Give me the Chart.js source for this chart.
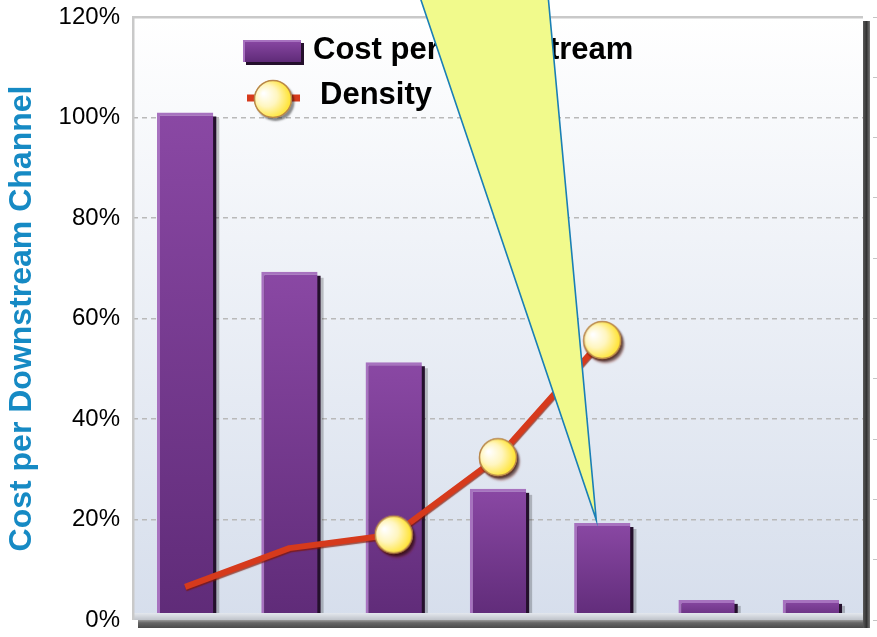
<!DOCTYPE html>
<html><head><meta charset="utf-8">
<script src="https://cdn.jsdelivr.net/npm/chart.js@4"></script>
<style>html,body{margin:0;padding:0;background:#fff;}#wrap{width:877px;height:637px;position:relative}</style>
</head><body><div id="wrap"><canvas id="c" width="877" height="637"></canvas></div>
<script>
// ---- data ----
const categories = ['1', '2', '3', '4', '5', '6', '7'];
const costPerChannel = [101, 69.3, 51.3, 26.1, 19.3, 4, 4];
const density = [6.6, 14.3, 17, 32.4, 55.7, null, null];
const densityMarkers = [0, 0, 19, 19, 19, 0, 0];
const yTicks = [0, 20, 40, 60, 80, 100, 120];
const seriesNames = ['Cost per Downstream', 'Density'];
const axisTitle = 'Cost per Downstream Channel';
const calloutTarget = 4; // index of the bar the callout points to

const FONT = "'Liberation Sans', Arial, sans-serif";

function makeBall(r) {
  const s = Math.ceil(r * 2 + 10) + (Math.ceil(r * 2 + 10) % 2);
  const cv = document.createElement('canvas'); cv.width = s; cv.height = s;
  const g = cv.getContext('2d'); const c = s / 2;
  g.save();
  g.shadowColor = 'rgba(0,0,0,0.45)'; g.shadowOffsetX = 2.5; g.shadowOffsetY = 3; g.shadowBlur = 2;
  g.beginPath(); g.arc(c, c, r, 0, Math.PI * 2); g.fillStyle = '#e6c458'; g.fill();
  g.restore();
  const rg = g.createRadialGradient(c - r * 0.5, c - r * 0.3, r * 0.05, c - r * 0.15, c, r * 1.2);
  rg.addColorStop(0, '#ffffff'); rg.addColorStop(0.45, '#fff6c0'); rg.addColorStop(1, '#ffe01a');
  g.beginPath(); g.arc(c, c, r - 0.5, 0, Math.PI * 2); g.fillStyle = rg; g.fill();
  g.lineWidth = 1.5; g.strokeStyle = '#b8864a'; g.stroke();
  return cv;
}
const ball = makeBall(19);

function barGradient(ctx, t, b) {
  if (!isFinite(t) || !isFinite(b) || t === b) return '#7a3a95';
  const g = ctx.createLinearGradient(0, t, 0, b);
  g.addColorStop(0, '#8a48a4'); g.addColorStop(1, '#5f2b78');
  return g;
}

const framePlugin = {
  id: 'frame',
  beforeDraw(chart) {
    const { ctx, chartArea: a } = chart;
    const g = ctx.createLinearGradient(0, a.top, 0, a.bottom);
    g.addColorStop(0, '#ffffff'); g.addColorStop(1, '#d6deec');
    ctx.save(); ctx.fillStyle = g; ctx.fillRect(a.left, a.top, a.right - a.left, a.bottom - a.top); ctx.restore();
  },
  beforeDatasetDraw(chart, args) {
    const ctx = chart.ctx;
    if (args.meta.type === 'bar') {
      ctx.save();
      args.meta.data.forEach(el => {
        const p = el.getProps(['x', 'y', 'base', 'width'], true);
        ctx.fillStyle = 'rgba(0,0,0,0.22)';
        ctx.fillRect(p.x - p.width / 2 + 6, p.y + 6, p.width, p.base - p.y);
        ctx.fillStyle = '#24102c';
        ctx.fillRect(p.x - p.width / 2 + 3, p.y + 4, p.width, p.base - p.y);
      });
      ctx.restore();
    } else if (args.meta.type === 'line') {
      ctx.save();
      ctx.shadowColor = 'rgba(130,20,0,0.7)'; ctx.shadowOffsetX = 0.5; ctx.shadowOffsetY = 1.5; ctx.shadowBlur = 1;
    }
  },
  afterDatasetDraw(chart, args) {
    if (args.meta.type === 'line') chart.ctx.restore();
  },
  afterDatasetsDraw(chart) {
    const { ctx, chartArea: a } = chart;
    ctx.save();
    const fg = ctx.createLinearGradient(0, a.bottom - 7, 0, a.bottom);
    fg.addColorStop(0, '#e4e8ee'); fg.addColorStop(1, '#bfc3ca');
    ctx.fillStyle = fg; ctx.fillRect(a.left, a.bottom - 7, a.right - a.left, 7);
    const bg = ctx.createLinearGradient(0, a.bottom, 0, a.bottom + 8);
    bg.addColorStop(0, '#9a9a9a'); bg.addColorStop(0.35, '#666'); bg.addColorStop(1, '#4a4a4a');
    ctx.fillStyle = bg; ctx.fillRect(a.left + 5, a.bottom, a.right - a.left + 2, 8);
    const rg = ctx.createLinearGradient(a.right, 0, a.right + 7, 0);
    rg.addColorStop(0, '#5a5a5a'); rg.addColorStop(0.5, '#333'); rg.addColorStop(1, '#777');
    ctx.fillStyle = rg; ctx.fillRect(a.right, a.top + 4, 7, a.bottom - a.top + 4);
    ctx.fillStyle = '#c9c9c9';
    ctx.fillRect(a.left, a.top - 1, a.right - a.left, 2.5);
    ctx.fillRect(a.left - 1, a.top - 1, 2.5, a.bottom - a.top + 1);
    ctx.restore();
  },
  afterDraw(chart) {
    const { ctx, chartArea: a } = chart;
    const ds = chart.data.datasets;
    ctx.save();
    const lx = a.left + 110, ly1 = a.top + 34, ly2 = a.top + 80;
    ctx.fillStyle = '#24102c'; ctx.fillRect(lx + 3, ly1 - 8, 58, 22);
    ctx.fillStyle = barGradient(ctx, ly1 - 11, ly1 + 11); ctx.fillRect(lx, ly1 - 11, 58, 22);
    ctx.fillStyle = '#a772bf'; ctx.fillRect(lx, ly1 - 11, 58, 2); ctx.fillRect(lx, ly1 - 11, 2, 22);
    ctx.font = 'bold 31px ' + FONT; ctx.fillStyle = '#000'; ctx.textBaseline = 'middle'; ctx.textAlign = 'left';
    ctx.fillText(ds[0].label, lx + 70, ly1 - 1);
    ctx.strokeStyle = '#d63a1c'; ctx.lineWidth = 7;
    ctx.beginPath(); ctx.moveTo(lx + 4, ly2 + 1); ctx.lineTo(lx + 57, ly2 + 1); ctx.stroke();
    ctx.drawImage(ball, lx + 30 - ball.width / 2, ly2 + 2 - ball.height / 2);
    ctx.fillText(ds[1].label, lx + 77, ly2 - 2);
    ctx.restore();
    const meta = chart.getDatasetMeta(0);
    const el = meta.data[calloutTarget];
    const tx = el.x - 6, ty = chart.scales.y.getPixelForValue(costPerChannel[calloutTarget]) - 3;
    ctx.save();
    ctx.beginPath();
    ctx.moveTo(tx - 176, -2); ctx.lineTo(tx - 48, -2); ctx.lineTo(tx, ty); ctx.closePath();
    ctx.fillStyle = '#f1fa8c'; ctx.fill();
    ctx.lineWidth = 1.6; ctx.strokeStyle = '#1a7fb5'; ctx.stroke();
    ctx.restore();
  }
};

new Chart(document.getElementById('c'), {
  data: {
    labels: categories,
    datasets: [
      {
        type: 'bar', label: seriesNames[0], data: costPerChannel, order: 2,
        backgroundColor: (c) => {
          const ys = c.chart.scales.y;
          if (!ys || c.type !== 'data' || !c.parsed) return '#7a3a95';
          return barGradient(c.chart.ctx, ys.getPixelForValue(c.parsed.y), ys.getPixelForValue(0));
        },
        borderColor: '#a772bf', borderWidth: { left: 3, top: 3, right: 0, bottom: 0 }, borderSkipped: false,
        barPercentage: 0.54, categoryPercentage: 1
      },
      {
        type: 'line', label: seriesNames[1], data: density, order: 1,
        borderColor: '#d63a1c', borderWidth: 6, borderJoinStyle: 'round', borderCapStyle: 'butt',
        tension: 0, spanGaps: false,
        pointStyle: ball, pointRadius: densityMarkers, pointHoverRadius: densityMarkers
      }
    ]
  },
  options: {
    responsive: false, animation: false,
    layout: { padding: { top: 17, bottom: 17, left: 0, right: 0 } },
    plugins: { legend: { display: false }, tooltip: { enabled: false } },
    scales: {
      x: { display: false, offset: true },
      y: {
        min: 0, max: 120,
        afterBuildTicks: (s) => { s.ticks = yTicks.map(v => ({ value: v })); },
        afterFit: (s) => { s.width = 133; s.paddingTop = 0; s.paddingBottom = 0; },
        ticks: { padding: 13, color: '#000', font: { family: FONT, size: 24 }, callback: (v) => v + '%' },
        grid: {
          drawTicks: false, lineWidth: 1.5,
          color: (c) => (c.tick && (c.tick.value === 0 || c.tick.value === 120)) ? 'rgba(0,0,0,0)' : '#b9b9b9'
        },
        border: { display: false, dash: [5, 4] },
        title: { display: true, text: axisTitle, color: '#168ac4', font: { family: FONT, size: 32, weight: 'bold', lineHeight: 1 }, padding: { top: 6, bottom: 0 } }
      },
      y2: {
        position: 'right', min: 0, max: 10,
        ticks: { display: false, stepSize: 1 },
        afterFit: (s) => { s.width = 14; s.paddingTop = 0; s.paddingBottom = 0; },
        grid: { drawOnChartArea: false, drawTicks: true, tickLength: 14, tickColor: '#c4c4c4', tickWidth: 1, tickBorderDash: [4, 10], tickBorderDashOffset: 4 },
        border: { display: false }
      }
    }
  },
  plugins: [framePlugin]
});
</script>
</body></html>
